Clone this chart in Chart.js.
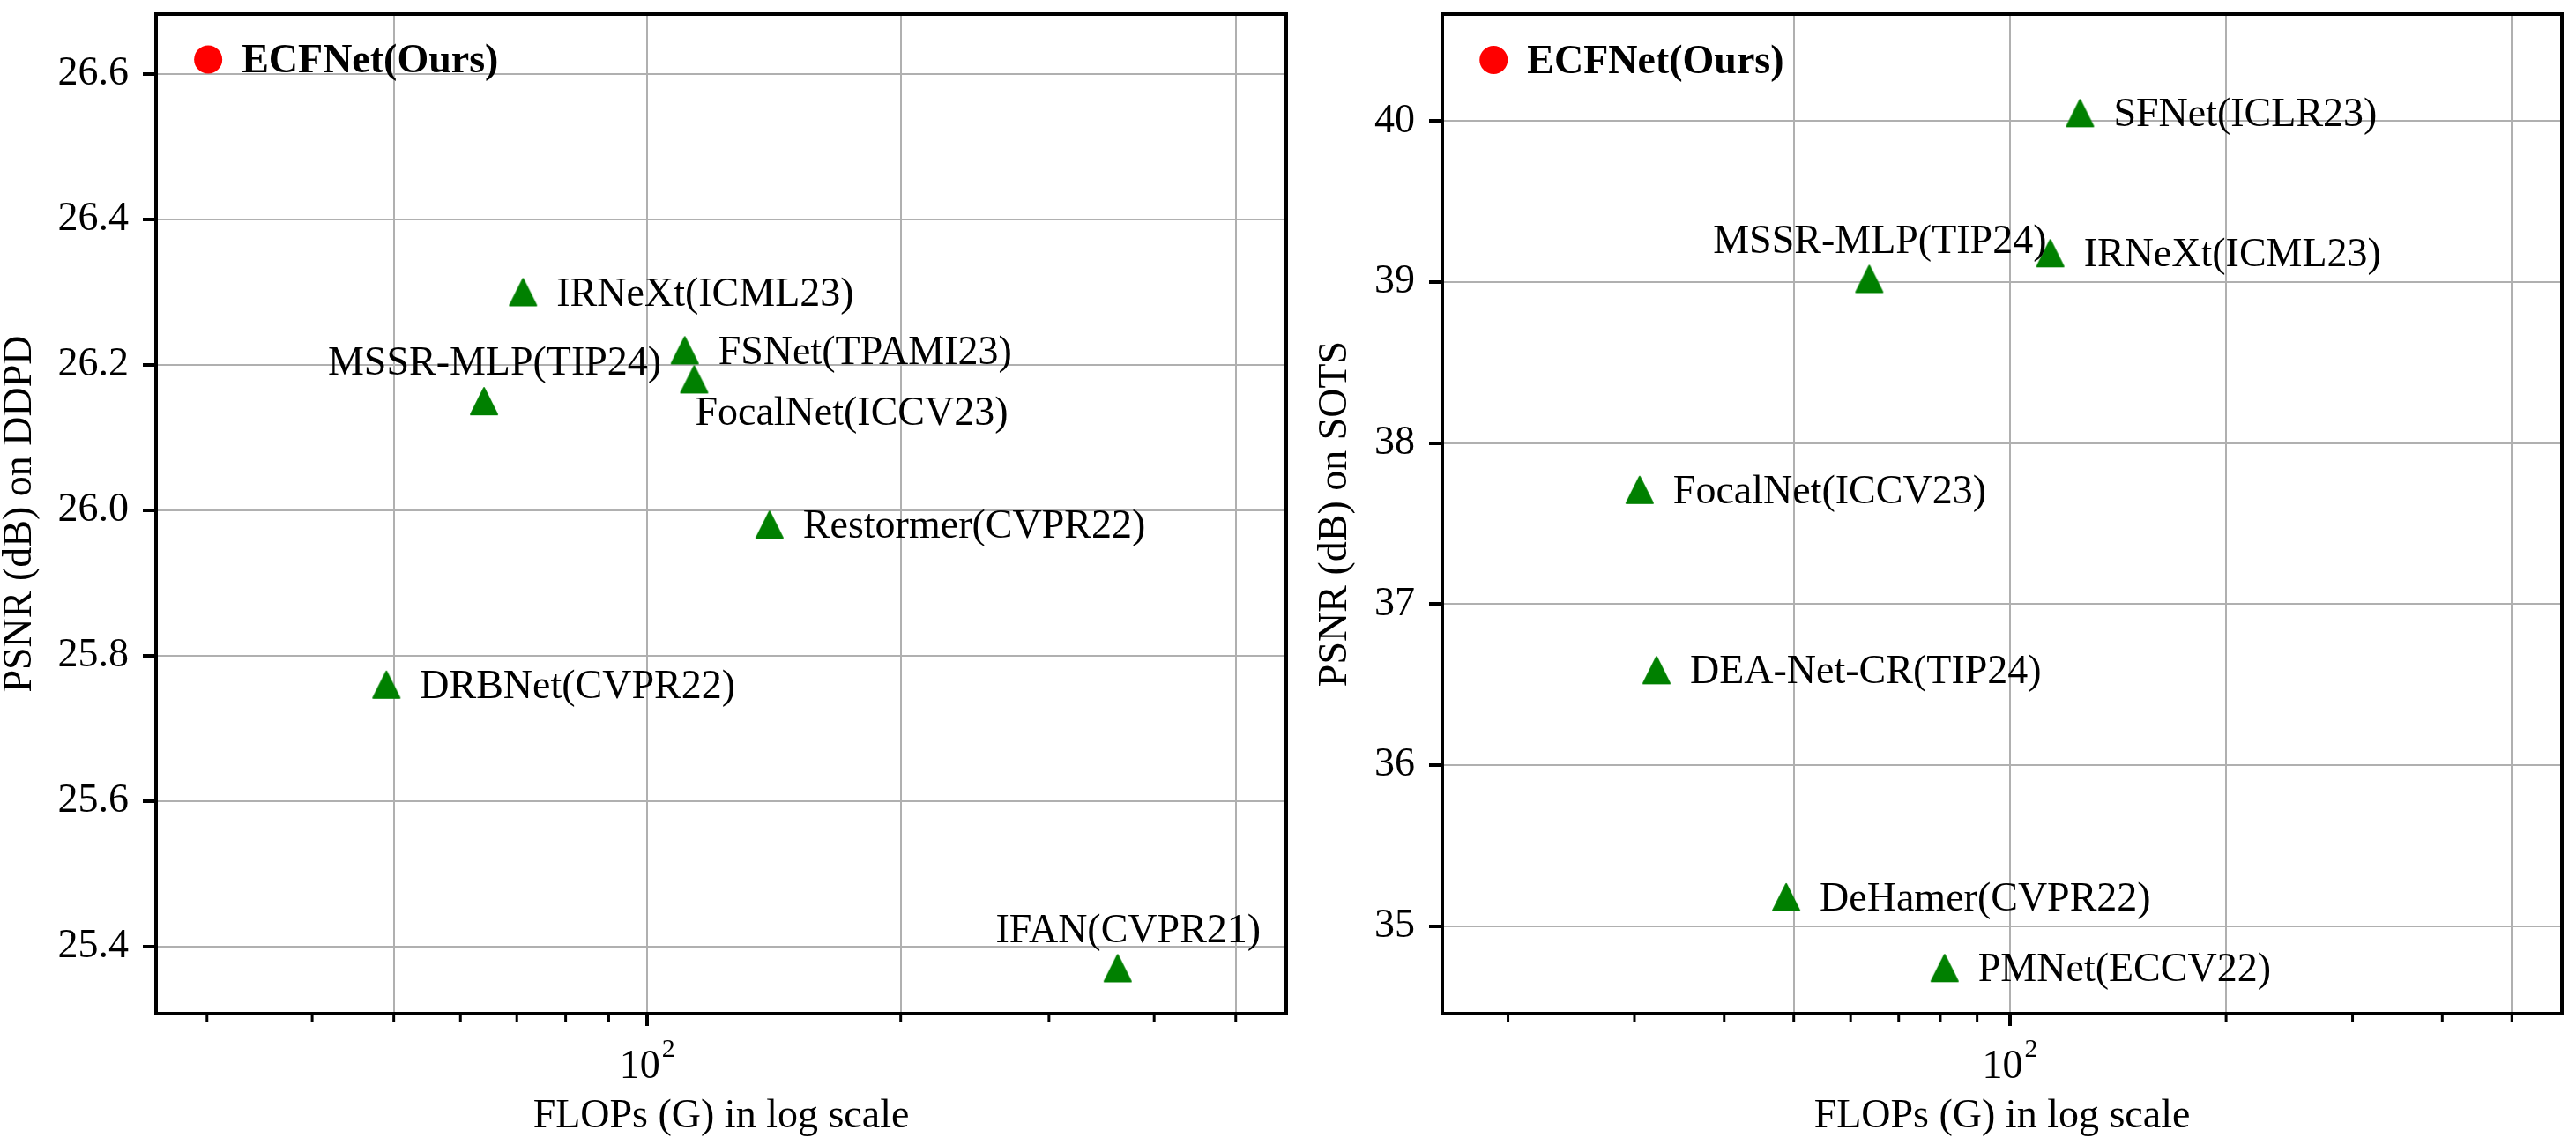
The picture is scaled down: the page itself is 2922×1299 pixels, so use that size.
<!DOCTYPE html>
<html>
<head>
<meta charset="utf-8">
<script src="https://cdn.jsdelivr.net/npm/chart.js@4.4.1/dist/chart.umd.min.js"></script>
<style>
  html, body { margin: 0; padding: 0; background: #fff; }
  #wrap { position: relative; width: 2922px; height: 1299px; overflow: hidden; }
  .box { position: absolute; top: 0; height: 1299px; }
</style>
</head>
<body>
<div id="wrap">
  <div class="box" style="left:0; width:1480px;"><canvas id="leftChart" width="1480" height="1299"></canvas></div>
  <div class="box" style="left:1492px; width:1430px;"><canvas id="rightChart" width="1430" height="1299"></canvas></div>
</div>
<script>
// ---- data ----
const ddpdNames = ['ECFNet(Ours)', 'IRNeXt(ICML23)', 'FSNet(TPAMI23)', 'FocalNet(ICCV23)', 'MSSR-MLP(TIP24)', 'Restormer(CVPR22)', 'DRBNet(CVPR22)', 'IFAN(CVPR21)'];
const ddpdFlops = [30.1, 71.2, 110.8, 113.7, 64.0, 139.7, 49.0, 362];
const ddpdPsnr  = [26.62, 26.30, 26.22, 26.18, 26.15, 25.98, 25.76, 25.37];

const sotsNames = ['ECFNet(Ours)', 'SFNet(ICLR23)', 'IRNeXt(ICML23)', 'MSSR-MLP(TIP24)', 'FocalNet(ICCV23)', 'DEA-Net-CR(TIP24)', 'DeHamer(CVPR22)', 'PMNet(ECCV22)'];
const sotsFlops = [19.1, 125.2, 113.8, 63.7, 30.5, 32.2, 48.8, 81.1];
const sotsPsnr  = [40.38, 40.05, 39.18, 39.02, 37.71, 36.59, 35.18, 34.74];

const ddpdYTicks = [25.4, 25.6, 25.8, 26.0, 26.2, 26.4, 26.6];
const sotsYTicks = [35, 36, 37, 38, 39, 40];
const xTickValues = [20, 30, 40, 50, 60, 70, 80, 90, 100, 200, 300, 400, 500];
const xGridValues = [50, 100, 200, 500];
const xMajorTick = 100;   // labelled as 10^2

// where each label sits relative to its marker
const ddpdPlaces = ['right', 'right', 'right', 'below', 'above', 'right', 'right', 'above'];
const sotsPlaces = ['right', 'right', 'right', 'above', 'right', 'right', 'right', 'right'];

const FONT = "'Liberation Serif', 'Times New Roman', serif";

function triangleMarker() {
    const c = document.createElement('canvas');
    c.width = 34; c.height = 34;
    const g = c.getContext('2d');
    g.fillStyle = '#008000';
    g.strokeStyle = '#008000';
    g.lineWidth = 2;
    g.lineJoin = 'round';
    g.beginPath();
    g.moveTo(17, 2);
    g.lineTo(32, 32);
    g.lineTo(2, 32);
    g.closePath();
    g.fill();
    g.stroke();
    return c;
}
const tri = triangleMarker();

const labelPlugin = {
    id: 'pointLabels',
    afterDatasetsDraw(chart) {
        const ctx = chart.ctx;
        ctx.save();
        ctx.fillStyle = '#000';
        ctx.textBaseline = 'middle';
        chart.data.datasets.forEach((ds, di) => {
            const meta = chart.getDatasetMeta(di);
            meta.data.forEach((pt, i) => {
                const place = ds.places[i];
                ctx.font = (ds.bold ? 'bold ' : '') + '46px ' + FONT;
                if (place === 'above') {
                    ctx.textAlign = 'center';
                    ctx.fillText(ds.names[i], pt.x + 12, pt.y - 42);
                } else if (place === 'below') {
                    ctx.textAlign = 'left';
                    ctx.fillText(ds.names[i], pt.x + 1, pt.y + 39);
                } else {
                    ctx.textAlign = 'left';
                    ctx.fillText(ds.names[i], pt.x + 38, pt.y + 3);
                }
            });
        });
        ctx.restore();
    }
};

// top/right spines, the short minor ticks and the 10^2 label of the log axis
const framePlugin = {
    id: 'frame',
    afterDraw(chart) {
        const { ctx, chartArea: a } = chart;
        const xs = chart.scales.x;
        ctx.save();
        ctx.strokeStyle = '#000';
        ctx.lineWidth = 4;
        ctx.beginPath();
        ctx.moveTo(a.left - 2, a.top);
        ctx.lineTo(a.right, a.top);
        ctx.lineTo(a.right, a.bottom + 2);
        ctx.stroke();
        ctx.lineWidth = 3;
        xTickValues.forEach(v => {
            if (v === xMajorTick || v < xs.min || v > xs.max) return;
            const x = xs.getPixelForValue(v);
            ctx.beginPath();
            ctx.moveTo(x, a.bottom);
            ctx.lineTo(x, a.bottom + 9);
            ctx.stroke();
        });

        // "10" with a raised exponent, centred on the major tick
        const px = xs.getPixelForValue(xMajorTick);
        const exp = String(Math.round(Math.log10(xMajorTick)));
        ctx.fillStyle = '#000';
        ctx.textBaseline = 'alphabetic';
        ctx.textAlign = 'left';
        ctx.font = '46px ' + FONT;
        const wBase = ctx.measureText('10').width;
        ctx.font = '30px ' + FONT;
        const wExp = ctx.measureText(exp).width;
        const x0 = px - (wBase + wExp + 2) / 2;
        ctx.font = '46px ' + FONT;
        ctx.fillText('10', x0, a.bottom + 73);
        ctx.font = '30px ' + FONT;
        ctx.fillText(exp, x0 + wBase + 2, a.bottom + 49);
        ctx.restore();
    }
};

function makeChart(id, cfg) {
    const others = cfg.names.slice(1);
    new Chart(document.getElementById(id), {
        type: 'scatter',
        data: {
            datasets: [
                {
                    data: [{ x: cfg.flops[0], y: cfg.psnr[0] }],
                    names: [cfg.names[0]],
                    places: [cfg.places[0]],
                    bold: true,
                    pointStyle: 'circle',
                    radius: 16,
                    backgroundColor: '#ff0000',
                    borderWidth: 0
                },
                {
                    data: others.map((n, i) => ({ x: cfg.flops[i + 1], y: cfg.psnr[i + 1] })),
                    names: others,
                    places: cfg.places.slice(1),
                    bold: false,
                    pointStyle: tri,
                    radius: 16,
                    backgroundColor: '#008000',
                    borderWidth: 0
                }
            ]
        },
        options: {
            responsive: false,
            animation: false,
            layout: { padding: { top: cfg.padTop, right: cfg.padRight, left: 0, bottom: 0 } },
            plugins: { legend: { display: false }, tooltip: { enabled: false } },
            scales: {
                x: {
                    type: 'logarithmic',
                    min: cfg.xMin,
                    max: cfg.xMax,
                    afterBuildTicks: s => {
                        s.ticks = xTickValues.filter(v => v >= cfg.xMin && v <= cfg.xMax).map(v => ({ value: v }));
                    },
                    afterFit: s => {
                        s.height = 149;
                        s.paddingLeft = 0;
                        s.paddingRight = 0;
                    },
                    ticks: {
                        autoSkip: false,
                        maxRotation: 0,
                        padding: 14,
                        color: '#000',
                        font: { family: FONT, size: 46 },
                        callback: () => ''
                    },
                    grid: {
                        color: c => (c.tick && xGridValues.includes(c.tick.value)) ? '#b0b0b0' : 'rgba(0,0,0,0)',
                        lineWidth: 2,
                        tickLength: 14,
                        tickWidth: 4,
                        tickColor: c => (c.tick && c.tick.value === xMajorTick) ? '#000' : 'rgba(0,0,0,0)'
                    },
                    border: { color: '#000', width: 4 },
                    title: {
                        display: true,
                        text: 'FLOPs (G) in log scale',
                        color: '#000',
                        font: { family: FONT, size: 46, lineHeight: 1 },
                        padding: { top: 0, bottom: 9 }
                    }
                },
                y: {
                    min: cfg.yMin,
                    max: cfg.yMax,
                    afterBuildTicks: s => { s.ticks = cfg.yTicks.map(v => ({ value: v })); },
                    afterFit: s => {
                        s.width = cfg.yWidth;
                        s.paddingTop = 0;
                        s.paddingBottom = 0;
                    },
                    ticks: {
                        padding: 16,
                        color: '#000',
                        font: { family: FONT, size: 46 },
                        callback: v => Number(v).toFixed(cfg.digits)
                    },
                    grid: {
                        color: '#b0b0b0',
                        lineWidth: 2,
                        tickLength: 15,
                        tickWidth: 4,
                        tickColor: '#000'
                    },
                    border: { color: '#000', width: 4 },
                    title: {
                        display: true,
                        text: cfg.yTitle,
                        color: '#000',
                        font: { family: FONT, size: 46, lineHeight: 1 },
                        padding: { top: 0, bottom: 0 }
                    }
                }
            }
        },
        plugins: [framePlugin, labelPlugin]
    });
}

makeChart('leftChart', {
    names: ddpdNames, flops: ddpdFlops, psnr: ddpdPsnr, places: ddpdPlaces,
    xMin: 26.1, xMax: 574, yMin: 25.3075, yMax: 26.6825,
    yTicks: ddpdYTicks, digits: 1, yTitle: 'PSNR (dB) on DDPD',
    yWidth: 177, padTop: 6, padRight: 21
});

makeChart('rightChart', {
    names: sotsNames, flops: sotsFlops, psnr: sotsPsnr, places: sotsPlaces,
    xMin: 16.2, xMax: 587, yMin: 34.457, yMax: 40.665,
    yTicks: sotsYTicks, digits: 0, yTitle: 'PSNR (dB) on SOTS',
    yWidth: 144, padTop: 9, padRight: 11
});
</script>
</body>
</html>
